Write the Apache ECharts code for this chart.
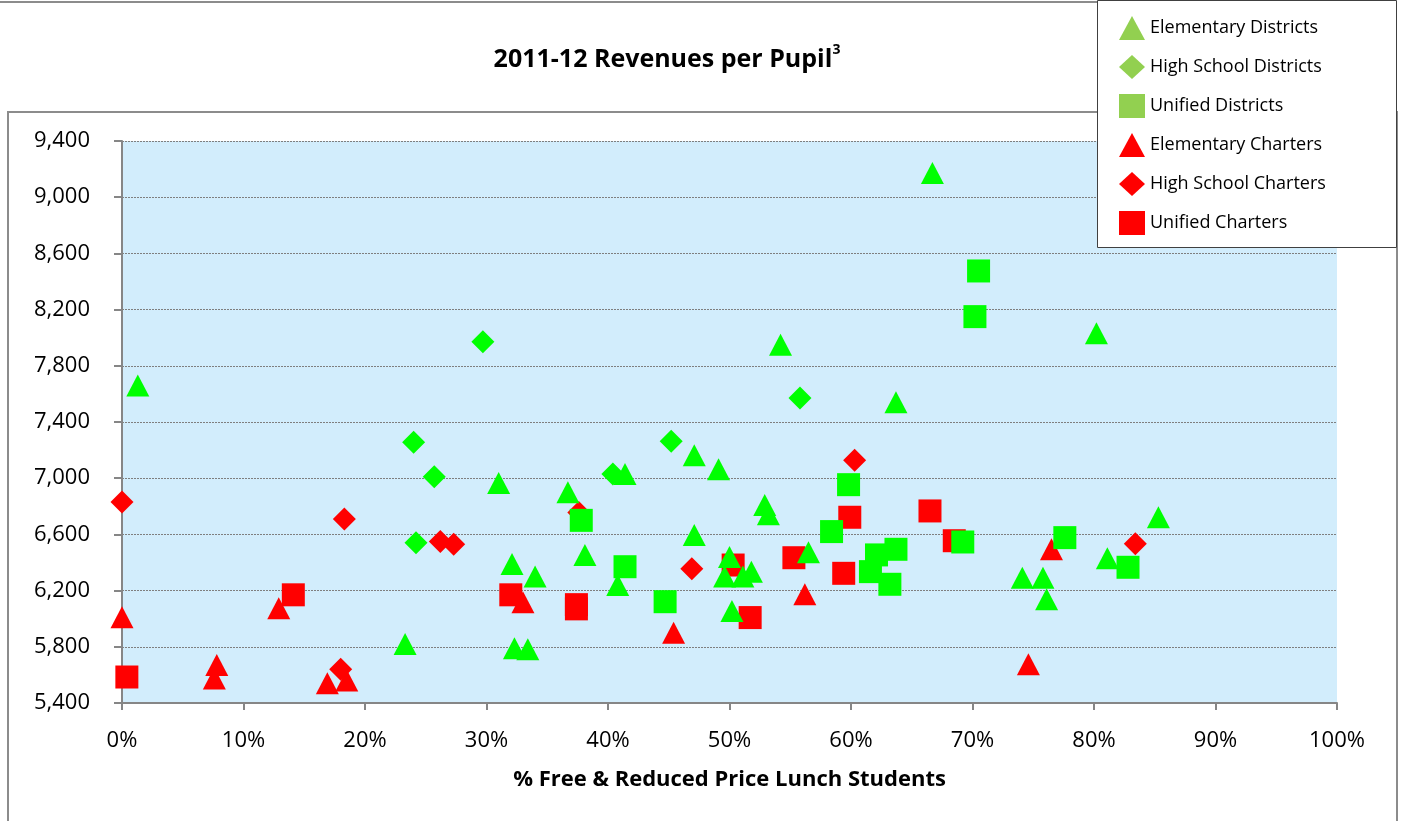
<!DOCTYPE html>
<html>
<head>
<meta charset="utf-8">
<title>2011-12 Revenues per Pupil</title>
<script src="https://cdn.jsdelivr.net/npm/echarts@6/dist/echarts.min.js"></script>
<style>
  html, body { margin: 0; padding: 0; background: #fff; }
  #chart { width: 1403px; height: 821px; }
</style>
</head>
<body>
<div id="chart"></div>
<script>
// [% free & reduced price lunch, revenue per pupil]
const elemDistricts = [
  [1.3, 7660], [23.3, 5820], [31.0, 6965], [36.7, 6900], [41.4, 7030], [47.1, 7163],
  [49.1, 7063], [47.1, 6596], [32.1, 6390], [38.1, 6454], [34.0, 6300], [40.8, 6240],
  [32.3, 5790], [33.4, 5782], [54.2, 7950], [63.7, 7540], [52.9, 6809], [53.2, 6743],
  [56.5, 6473], [50.0, 6440], [49.6, 6300], [51.1, 6300], [51.8, 6335], [50.2, 6055],
  [74.1, 6292], [75.8, 6292], [76.1, 6138], [66.7, 9172], [80.2, 8031], [85.3, 6722],
  [81.1, 6430]
];
const hsDistricts = [
  [24.0, 7256], [25.7, 7010], [24.2, 6540], [29.7, 7972], [45.2, 7263], [40.4, 7030],
  [55.8, 7571]
];
const unifiedDistricts = [
  [37.8, 6700], [41.4, 6370], [44.7, 6121], [70.2, 8150], [70.5, 8475], [59.8, 6954],
  [58.4, 6620], [69.2, 6546], [62.1, 6454], [63.7, 6494], [61.6, 6335], [63.2, 6245],
  [77.6, 6577], [82.8, 6366]
];
const elemCharters = [
  [12.9, 6075], [0, 6010], [7.8, 5670], [7.6, 5575], [16.9, 5540], [18.5, 5560],
  [33.0, 6117], [45.4, 5900], [56.2, 6174], [74.6, 5676], [76.5, 6494]
];
const hsCharters = [
  [0, 6830], [18.3, 6710], [26.2, 6550], [18.0, 5640], [37.6, 6755], [27.3, 6530],
  [46.9, 6355], [60.3, 7127], [83.4, 6534]
];
const unifiedCharters = [
  [14.1, 6170], [0.4, 5585], [32.0, 6170], [37.4, 6100], [37.4, 6070], [59.9, 6722],
  [66.5, 6767], [68.5, 6555], [55.3, 6434], [50.3, 6382], [51.7, 6008], [59.4, 6323]
];
const yTicks = [5400, 9400, 400]; // min, max, step
const xTicks = [0, 100, 10];

const FONT = '"Open Sans", "Noto Sans", sans-serif';
const GREEN = '#00FF00';
const RED = '#FF0000';
const LEGEND_GREEN = '#92D050';

const chart = echarts.init(document.getElementById('chart'));

function scatter(name, data, symbol, size, color, z) {
  return {
    name,
    type: 'scatter',
    data,
    symbol,
    symbolSize: size,
    z,
    itemStyle: { color, opacity: 1 },
    emphasis: { disabled: true },
  };
}

chart.setOption({
  animation: false,
  backgroundColor: '#fff',
  textStyle: { fontFamily: FONT },
  graphic: [
    {
      type: 'line',
      shape: { x1: 0, y1: 2, x2: 1100, y2: 2 },
      style: { stroke: '#8c8c8c', lineWidth: 2 },
      silent: true,
    },
    {
      type: 'rect',
      shape: { x: 8, y: 112, width: 1389, height: 730 },
      style: { fill: 'none', stroke: '#8c8c8c', lineWidth: 2 },
      silent: true,
      z: -1,
    },
    {
      type: 'text',
      x: 667,
      y: 60,
      style: {
        text: '{t|2011-12 Revenues per Pupil}{s|3}',
        align: 'center',
        verticalAlign: 'middle',
        rich: {
          t: { fontFamily: FONT, fontSize: 25, fontWeight: 'bold', fill: '#000', lineHeight: 34 },
          s: { fontFamily: FONT, fontSize: 14, fontWeight: 'bold', fill: '#000', verticalAlign: 'top', lineHeight: 34 },
        },
      },
      silent: true,
    },
    {
      type: 'rect',
      shape: { x: 1097.5, y: 0.5, width: 299, height: 247 },
      style: { fill: '#fff', stroke: '#404040', lineWidth: 1 },
      silent: true,
      z: 10,
    },
  ],
  legend: {
    orient: 'vertical',
    left: 1114,
    top: 11,
    z: 20,
    itemWidth: 26,
    itemHeight: 24,
    itemGap: 15,
    selectedMode: false,
    textStyle: { fontFamily: FONT, fontSize: 18, color: '#000' },
    data: [
      { name: 'Elementary Districts', icon: 'triangle', itemStyle: { color: LEGEND_GREEN } },
      { name: 'High School Districts', icon: 'diamond', itemStyle: { color: LEGEND_GREEN } },
      { name: 'Unified Districts', icon: 'rect', itemStyle: { color: LEGEND_GREEN } },
      { name: 'Elementary Charters', icon: 'triangle', itemStyle: { color: RED } },
      { name: 'High School Charters', icon: 'diamond', itemStyle: { color: RED } },
      { name: 'Unified Charters', icon: 'rect', itemStyle: { color: RED } },
    ],
  },
  grid: {
    left: 122,
    right: 66,
    top: 141,
    bottom: 118,
    show: true,
    backgroundColor: '#D2EDFC',
    borderWidth: 0,
  },
  xAxis: {
    type: 'value',
    min: xTicks[0],
    max: xTicks[1],
    interval: xTicks[2],
    name: '% Free & Reduced Price Lunch Students',
    nameLocation: 'middle',
    nameGap: 66,
    nameTextStyle: { fontFamily: FONT, fontSize: 22, fontWeight: 'bold', color: '#000' },
    axisLine: { onZero: false, lineStyle: { color: '#868686', width: 2 } },
    axisTick: { length: 7, lineStyle: { color: '#868686', width: 2 } },
    axisLabel: {
      margin: 27,
      fontSize: 22,
      color: '#000',
      formatter: (v) => v + '%',
    },
    splitLine: { show: false },
  },
  yAxis: {
    type: 'value',
    min: yTicks[0],
    max: yTicks[1],
    interval: yTicks[2],
    axisLine: { show: true, lineStyle: { color: '#868686', width: 2 } },
    axisTick: { show: true, length: 8, lineStyle: { color: '#868686', width: 2 } },
    axisLabel: {
      margin: 32,
      fontSize: 22,
      color: '#000',
      formatter: (v) => v.toLocaleString('en-US'),
    },
    splitLine: { show: true, lineStyle: { color: '#7f7f7f', width: 1, type: [2, 1] } },
  },
  series: [
    scatter('Elementary Districts', elemDistricts, 'triangle', [23, 22], GREEN, 4),
    scatter('High School Districts', hsDistricts, 'diamond', [23, 23], GREEN, 4),
    scatter('Unified Districts', unifiedDistricts, 'rect', [23, 23], GREEN, 4),
    scatter('Elementary Charters', elemCharters, 'triangle', [23, 22], RED, 3),
    scatter('High School Charters', hsCharters, 'diamond', [23, 23], RED, 3),
    scatter('Unified Charters', unifiedCharters, 'rect', [23, 23], RED, 3),
  ],
});
</script>
</body>
</html>
